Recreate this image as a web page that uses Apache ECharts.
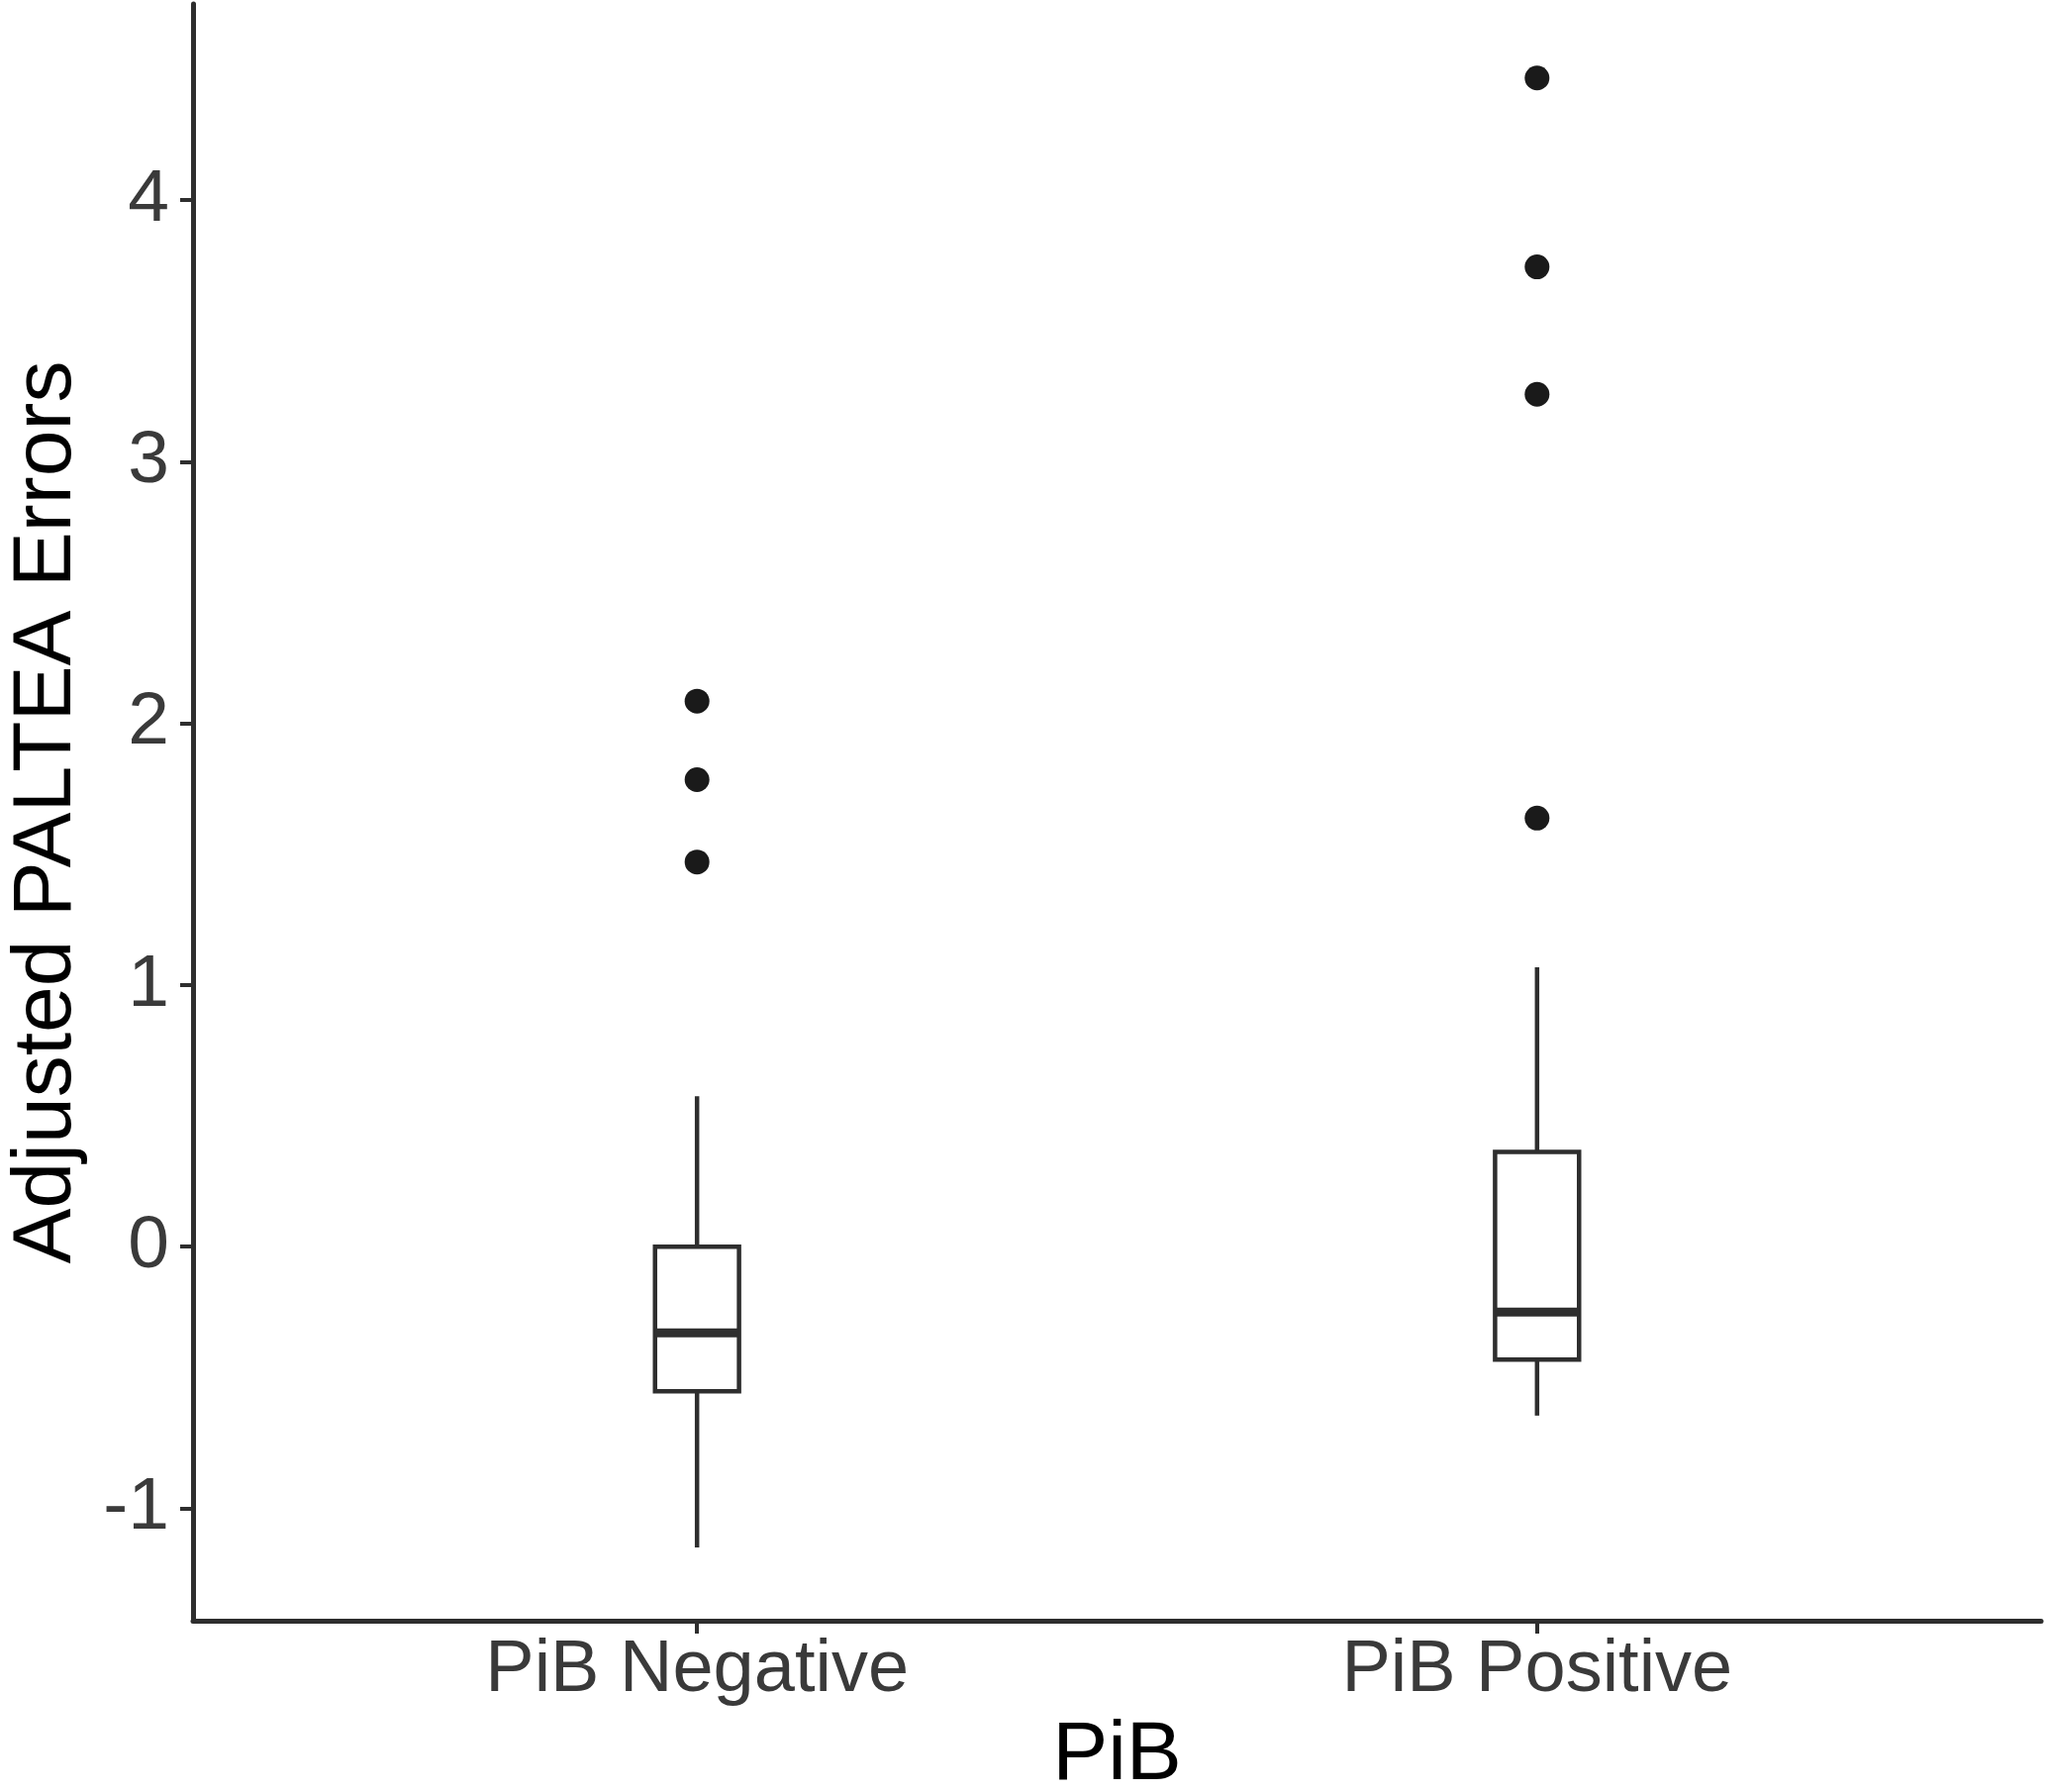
<!DOCTYPE html>
<html>
<head>
<meta charset="utf-8">
<script src="https://cdn.jsdelivr.net/npm/echarts@6/dist/echarts.min.js"></script>
<style>
html,body{margin:0;padding:0;background:#fff;}
#chart{width:2070px;height:1810px;}
</style>
</head>
<body>
<div id="chart"></div>
<script>
// ---- data ----
var categories = ['PiB Negative', 'PiB Positive'];
var lowerWhisker = [-1.15, -0.646];
var q1 = [-0.553, -0.432];
var median = [-0.33, -0.25];
var q3 = [0.0, 0.362];
var upperWhisker = [0.575, 1.068];
var outliersNegative = [2.085, 1.785, 1.47];
var outliersPositive = [4.467, 3.745, 3.258, 1.638];
var yTicks = [-1, 0, 1, 2, 3, 4];
var xTitle = 'PiB';
var yTitle = 'Adjusted PALTEA Errors';

// build library inputs
var boxData = categories.map(function (c, i) {
  return [i + 1, lowerWhisker[i], q1[i], median[i], q3[i], upperWhisker[i]];
});
var outlierData = [];
outliersNegative.forEach(function (v) { outlierData.push([1, v]); });
outliersPositive.forEach(function (v) { outlierData.push([2, v]); });
var xTickPos = categories.map(function (c, i) { return i + 1; });

var FONT = "'Liberation Sans', Arial, Helvetica, sans-serif";
var LINE = '#2e2e2e';
var BOX_WIDTH = 0.1; // in category units (ggplot width)

var chart = echarts.init(document.getElementById('chart'), null, {renderer: 'canvas'});
chart.setOption({
  animation: false,
  backgroundColor: '#ffffff',
  grid: {left: 195, right: 8, top: 4, bottom: 173, containLabel: false, outerBoundsMode: 'none'},
  xAxis: {
    type: 'value',
    min: 0.4,
    max: 2.6,
    name: xTitle,
    nameLocation: 'middle',
    nameGap: 95,
    nameTextStyle: {fontFamily: FONT, fontSize: 84, color: '#000000'},
    axisLine: {show: true, onZero: false, lineStyle: {color: LINE, width: 5}},
    axisTick: {show: true, length: 13, customValues: xTickPos, lineStyle: {color: LINE, width: 4}},
    axisLabel: {
      show: true,
      customValues: xTickPos,
      margin: 14,
      fontFamily: FONT,
      fontSize: 74,
      color: '#3a3a3a',
      formatter: function (v) { return categories[Math.round(v) - 1] || ''; }
    },
    splitLine: {show: false}
  },
  yAxis: {
    type: 'value',
    min: -1.43,
    max: 4.75,
    name: yTitle,
    nameLocation: 'middle',
    nameRotate: 90,
    nameGap: 105,
    nameTextStyle: {fontFamily: FONT, fontSize: 84, color: '#000000'},
    axisLine: {show: true, onZero: false, lineStyle: {color: LINE, width: 5}},
    axisTick: {show: true, length: 13, customValues: yTicks, lineStyle: {color: LINE, width: 4}},
    axisLabel: {
      show: true,
      customValues: yTicks,
      margin: 24,
      fontFamily: FONT,
      fontSize: 75,
      color: '#3a3a3a'
    },
    splitLine: {show: false}
  },
  series: [
    {
      type: 'custom',
      data: boxData,
      encode: {x: 0, y: [1, 2, 3, 4, 5]},
      renderItem: function (params, api) {
        var x = api.value(0);
        var lo = api.coord([x, api.value(1)]);
        var b1 = api.coord([x, api.value(2)]);
        var md = api.coord([x, api.value(3)]);
        var b3 = api.coord([x, api.value(4)]);
        var hi = api.coord([x, api.value(5)]);
        var hw = api.size([BOX_WIDTH, 0])[0] / 2;
        var cx = lo[0];
        return {
          type: 'group',
          children: [
            {type: 'line', shape: {x1: cx, y1: b3[1], x2: cx, y2: hi[1]}, style: {stroke: LINE, lineWidth: 4.5}},
            {type: 'line', shape: {x1: cx, y1: lo[1], x2: cx, y2: b1[1]}, style: {stroke: LINE, lineWidth: 4.5}},
            {type: 'rect', shape: {x: cx - hw, y: b3[1], width: hw * 2, height: b1[1] - b3[1]},
              style: {fill: '#ffffff', stroke: LINE, lineWidth: 4.5}},
            {type: 'line', shape: {x1: cx - hw, y1: md[1], x2: cx + hw, y2: md[1]}, style: {stroke: LINE, lineWidth: 9}}
          ]
        };
      }
    },
    {
      type: 'scatter',
      data: outlierData,
      symbol: 'circle',
      symbolSize: 25,
      itemStyle: {color: '#1a1a1a', opacity: 1}
    }
  ]
});
</script>
</body>
</html>
